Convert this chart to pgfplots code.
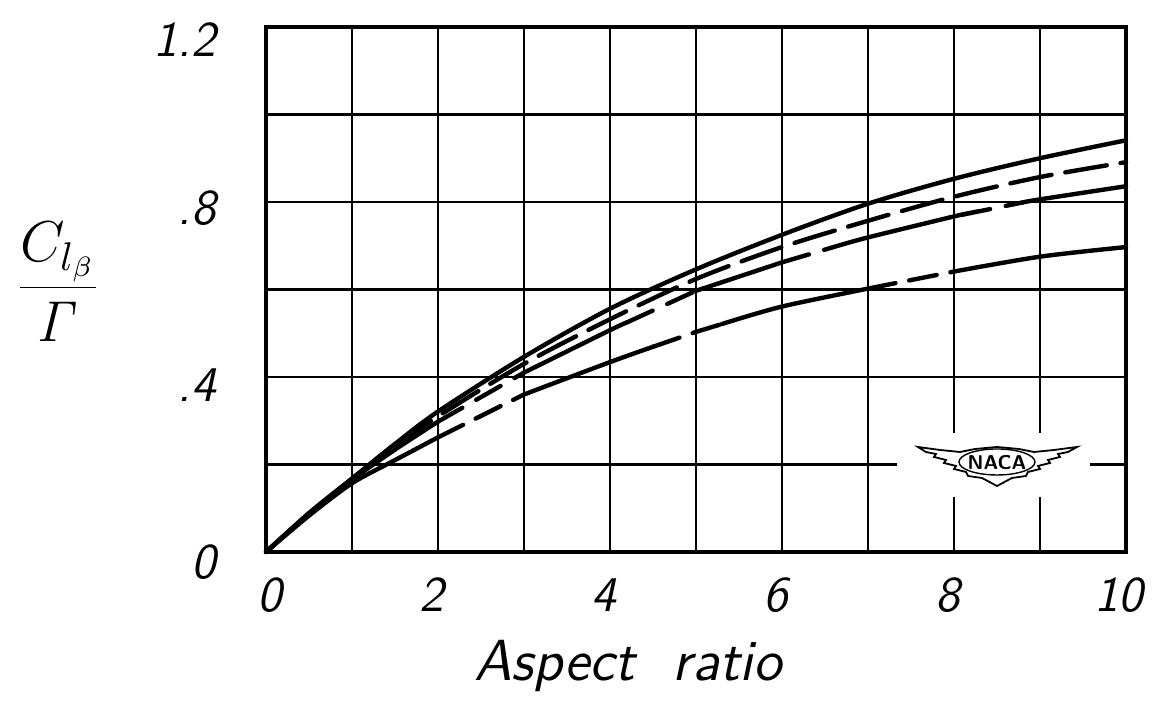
\documentclass[border=0pt]{standalone}
\usepackage{pgfplots}
\pgfplotsset{compat=1.18}
\begin{document}
\begin{tikzpicture}
% image-pixel frame: picture 1160x700 px, 1 px = 0.25pt; axis box 266..1126 x 27..552 px
\begin{scope}[shift={(-66.5pt,138pt)}, x=0.25pt, y=-0.25pt]
  \useasboundingbox (0,0) rectangle (1160,700);
\end{scope}
\begin{axis}[
  at={(0pt,0pt)}, anchor=south west,
  scale only axis, width=215pt, height=131.25pt,
  xmin=0, xmax=10, ymin=0, ymax=1.2,
  xtick={0,1,2,3,4,5,6,7,8,9,10},
  ytick={0,0.2,0.4,0.6,0.8,1.0,1.2},
  xticklabels={}, yticklabels={},
  major tick length=0pt,
  grid=major,
  grid style={black, line width=0.7pt},
  axis line style={black, line width=1.1pt},
  clip=false,
  every axis plot/.append style={black, line width=1.1pt, line cap=round, mark=none},
]
% ---- curve A (solid)
\addplot[smooth] coordinates {(0,0) (0.5,0.089) (1,0.168) (1.5,0.247) (2,0.321) (3,0.446) (4,0.556) (5,0.646) (6,0.725) (7,0.796) (8,0.853) (9,0.900) (10,0.941)};
% ---- curve B (solid start, long dashes)
\addplot[smooth] coordinates {(0,0) (0.5,0.088) (1,0.167)};
\addplot[smooth, dash pattern=on 10.5pt off 3.5pt] coordinates {(1,0.167) (1.5,0.242) (2,0.310) (3,0.430) (4,0.532) (5,0.624) (6,0.697) (7,0.757) (8,0.812) (9,0.857) (10,0.891)};
% ---- curve C (mixed)
\addplot[smooth] coordinates {(0,0) (0.5,0.087) (1,0.165) (1.5,0.234) (2,0.298)};
\addplot[dash pattern=on 7pt off 4pt] coordinates {(2,0.298) (3,0.410)};
\addplot[smooth] coordinates {(3,0.410) (4,0.507) (4.2,0.525)};
\addplot[dash pattern=on 7pt off 4pt] coordinates {(4.2,0.525) (5,0.597)};
\addplot[smooth] coordinates {(5,0.597) (6,0.662)};
\addplot[dash pattern=on 7pt off 4pt] coordinates {(6,0.662) (6.6,0.697)};
\addplot[smooth] coordinates {(6.6,0.697) (7,0.719) (8,0.767) (8.1,0.771)};
\addplot[dash pattern=on 7pt off 4pt] coordinates {(8.1,0.771) (8.8,0.799)};
\addplot[smooth] coordinates {(8.8,0.799) (9,0.806) (10,0.836)};
% ---- curve D (mixed)
\addplot[smooth] coordinates {(0,0) (0.5,0.083) (1,0.157) (1.5,0.210) (2,0.262)};
\addplot[dash pattern=on 7pt off 3.5pt] coordinates {(2,0.262) (3,0.360)};
\addplot[smooth] coordinates {(3,0.360) (4,0.434) (4.5,0.469)};
\addplot[dash pattern=on 7pt off 3.5pt] coordinates {(4.5,0.469) (5,0.503) (5.3,0.521)};
\addplot[smooth] coordinates {(5.3,0.521) (6,0.561) (7,0.602)};
\addplot[dash pattern=on 7pt off 3.5pt] coordinates {(7,0.602) (8,0.641)};
\addplot[smooth] coordinates {(8,0.641) (9,0.675) (10,0.697)};
\end{axis}
\begin{scope}[shift={(-66.5pt,138pt)}, x=0.25pt, y=-0.25pt]
  % NACA emblem
  \fill[white] (897,433) rectangle (1090,497);
  \draw[line width=0.45pt, fill=white] (918,447) -- (940,450) -- (960,452) -- (975,449) -- (997,447) -- (1019,449) -- (1034,452) -- (1054,450) -- (1077,447)
    -- (1068,452) -- (1058,454) -- (1060,457) -- (1048,460) -- (1050,463) -- (1038,466) -- (1040,469) -- (1028,472) -- (1026,476) -- (1012,478) -- (997,486)
    -- (982,478) -- (968,476) -- (966,472) -- (954,469) -- (956,466) -- (944,463) -- (946,460) -- (934,457) -- (936,454) -- (926,452) -- cycle;
  \draw[line width=0.35pt] (997,462) ellipse [x radius=38, y radius=13];
  \node[font=\fontsize{5}{6}\selectfont\sffamily\bfseries] at (997,463) {NACA};
  % tick labels
  \begin{scope}[every node/.style={font=\fontsize{12.5}{15}\selectfont\sffamily\slshape}]
    \node[anchor=east] at (230,40) {1.2};
    \node[anchor=east] at (230,208) {.8};
    \node[anchor=east] at (230,385) {.4};
    \node[anchor=east] at (230,562) {0};
    \node at (270,595) {0};
    \node at (432,595) {2};
    \node at (604,595) {4};
    \node at (776,595) {6};
    \node at (948,595) {8};
    \node at (1119,595) {10};
  \end{scope}
  \node[font=\fontsize{14.5}{16}\selectfont\sffamily\slshape] at (628,666) {Aspect\ \ ratio};
  \node[font=\fontsize{14}{16}\selectfont] at (58,282) {$\displaystyle\frac{C_{l_\beta}}{\mathit{\Gamma}}$};
\end{scope}
\end{tikzpicture}
\end{document}
